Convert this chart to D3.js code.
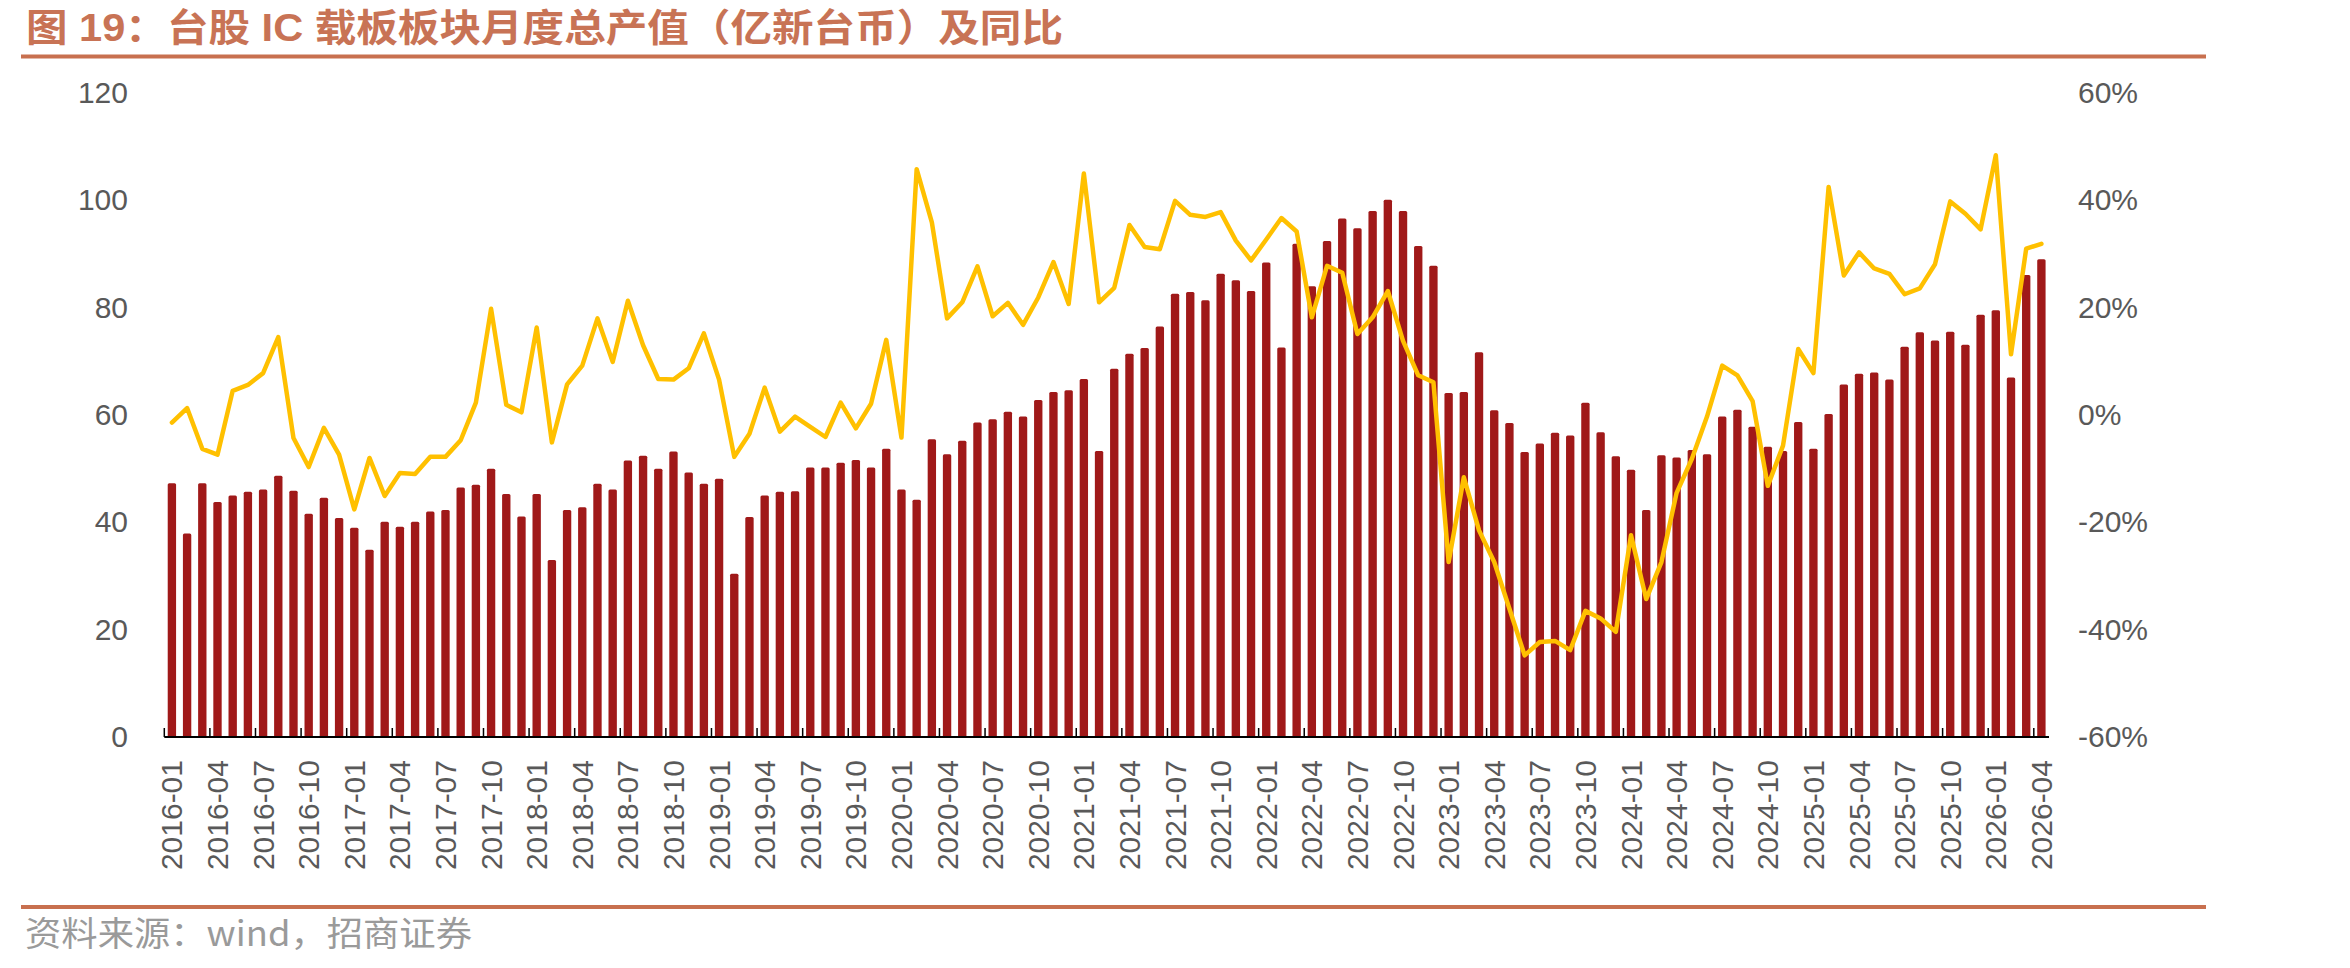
<!DOCTYPE html>
<html>
<head>
<meta charset="utf-8">
<script src="https://cdn.jsdelivr.net/npm/d3@7"></script>
<style>
    body { margin: 0; background: #fff; }
    svg { display: block; }
</style>
</head>
<body>
<svg id="chart"></svg>
<script>
/* 月度总产值（亿新台币） 2016-01 ~ 2026-04 */
let revenue = [
    47.3, 37.9, 47.3, 43.8, 45.0, 45.7, 46.1, 48.7, 45.9, 41.6, 44.6, 40.8,
    39.0, 34.9, 40.1, 39.2, 40.1, 42.0, 42.3, 46.5, 47.0, 50.0, 45.3, 41.1,
    45.3, 33.0, 42.3, 42.8, 47.2, 46.1, 51.5, 52.4, 50.0, 53.2, 49.3, 47.2,
    48.1, 30.4, 41.0, 45.0, 45.7, 45.8, 50.2, 50.2, 51.1, 51.6, 50.2, 53.7,
    46.1, 44.2, 55.5, 52.7, 55.2, 58.6, 59.2, 60.6, 59.7, 62.8, 64.3, 64.6,
    66.7, 53.3, 68.6, 71.4, 72.5, 76.5, 82.6, 82.9, 81.4, 86.3, 85.1, 83.1,
    88.4, 72.6, 91.9, 84.0, 92.4, 96.6, 94.8, 98.0, 100.1, 98.0, 91.5, 87.8,
    64.1, 64.3, 71.7, 60.9, 58.5, 53.1, 54.7, 56.7, 56.2, 62.3, 56.8, 52.3,
    49.8, 42.3, 52.5, 52.1, 53.5, 52.7, 59.7, 61.0, 57.8, 54.1, 53.3, 58.7,
    53.7, 60.2, 65.7, 67.7, 67.9, 66.6, 72.7, 75.4, 73.9, 75.5, 73.1, 78.7,
    79.5, 67.0, 86.1, 89.0
];
/* 同比（%） */
let yoy = [
    -1.4, 1.3, -6.3, -7.4, 4.5, 5.6, 7.8, 14.5, -4.3, -9.7, -2.4, -7.4,
    -17.6, -8.0, -15.1, -10.8, -11.0, -7.8, -7.8, -4.7, 2.3, 19.8, 1.9, 0.5,
    16.3, -5.1, 5.7, 9.2, 18.0, 9.9, 21.3, 13.0, 6.7, 6.6, 8.7, 15.2,
    6.6, -7.8, -3.5, 5.1, -3.1, -0.3, -2.2, -4.1, 2.3, -2.5, 2.1, 14.0,
    -4.2, 45.8, 35.9, 18.0, 21.0, 27.7, 18.4, 20.9, 16.8, 21.9, 28.5, 20.7,
    45.0, 21.0, 23.7, 35.4, 31.3, 30.9, 39.9, 37.3, 36.9, 37.8, 32.5, 28.8,
    32.7, 36.7, 34.2, 18.2, 27.8, 26.5, 15.1, 18.2, 23.1, 13.8, 7.4, 6.1,
    -27.4, -11.6, -21.5, -27.4, -36.1, -44.8, -42.3, -42.1, -43.8, -36.5, -37.9, -40.4,
    -22.4, -34.3, -27.4, -14.5, -8.2, -0.3, 9.2, 7.4, 2.6, -13.2, -5.7, 12.3,
    7.8, 42.5, 26.0, 30.3, 27.3, 26.3, 22.5, 23.6, 28.1, 39.8, 37.5, 34.6,
    48.4, 11.3, 31.0, 31.9
];
let leftTicks  = [0, 20, 40, 60, 80, 100, 120];
let rightTicks = [-60, -40, -20, 0, 20, 40, 60];

let months = d3.timeMonth.range(new Date(2016, 0, 1), new Date(2026, 4, 1))
                .map(d3.timeFormat("%Y-%m"));
let xLabels = months.filter((d, i) => i % 3 === 0);

let width = 2350, height = 968;
let svg = d3.select("#chart").attr("width", width).attr("height", height);

svg.append("rect").attr("width", width).attr("height", height).attr("fill", "#fff");

/* 标题 */
svg.append("text")
    .attr("x", 26)
    .attr("y", 41)
    .attr("font-family", "'Liberation Sans', 'Noto Sans CJK SC', sans-serif")
    .attr("font-weight", "bold")
    .attr("font-size", 38)
    .attr("fill", "#C87355")
    .attr("textLength", 1037)
    .attr("lengthAdjust", "spacingAndGlyphs")
    .text("图 19：台股 IC 载板板块月度总产值（亿新台币）及同比");

svg.append("line") /* title underline */
    .attr("x1", 21).attr("x2", 2206)
    .attr("y1", 56.5).attr("y2", 56.5)
    .attr("stroke", "#C8704F")
    .attr("stroke-width", 4);

svg.append("line") /* footer line */
    .attr("x1", 21).attr("x2", 2206)
    .attr("y1", 907).attr("y2", 907)
    .attr("stroke", "#C8704F")
    .attr("stroke-width", 4);

svg.append("text")
    .attr("x", 25)
    .attr("y", 946)
    .attr("font-family", "'Noto Sans CJK SC', 'Liberation Sans', sans-serif")
    .attr("font-size", 34)
    .attr("fill", "#9A9A9A")
    .attr("textLength", 447)
    .attr("lengthAdjust", "spacingAndGlyphs")
    .text("资料来源：wind，招商证券");

/* scales */
let plotLeft = 164.3, plotRight = 2049, plotTop = 93, plotBottom = 737;

let xScale = d3.scaleBand()
                .domain(months)
                .range([plotLeft, plotRight])
                .paddingInner(0.45)
                .paddingOuter(0.225),
    yLeft  = d3.scaleLinear().domain([0, 120]).range([plotBottom, plotTop]),
    yRight = d3.scaleLinear().domain([-60, 60]).range([plotBottom, plotTop]);

let step = xScale.step(),
    edge = (step - xScale.bandwidth()) / 2;

let tickFont = "'Liberation Sans', Arial, sans-serif";

/* 左轴 */
let gLeft = svg.append("g")
    .attr("transform", `translate(136, 0)`)
    .call(d3.axisLeft(yLeft).tickValues(leftTicks).tickSize(0).tickPadding(8));
gLeft.select(".domain").remove();
gLeft.selectAll("text")
    .attr("font-family", tickFont)
    .attr("font-size", 30)
    .attr("fill", "#595959");

/* 右轴 */
let gRight = svg.append("g")
    .attr("transform", `translate(2070, 0)`)
    .call(d3.axisRight(yRight).tickValues(rightTicks).tickSize(0).tickPadding(8)
            .tickFormat((d) => d + "%"));
gRight.select(".domain").remove();
gRight.selectAll("text")
    .attr("font-family", tickFont)
    .attr("font-size", 30)
    .attr("fill", "#595959");

/* 柱 */
svg.append("g")
    .selectAll("rect")
    .data(revenue)
    .enter()
    .append("rect")
    .attr("x", (d, i) => xScale(months[i]))
    .attr("width", xScale.bandwidth())
    .attr("y", (d) => yLeft(d))
    .attr("height", (d) => yLeft(0) - yLeft(d))
    .attr("rx", 1.5)
    .attr("fill", "#A01919");

/* x 轴 */
let gX = svg.append("g")
    .attr("transform", `translate(0, ${plotBottom})`)
    .call(d3.axisBottom(xScale).tickValues(xLabels).tickSize(0).tickPadding(0));
gX.select(".domain").remove();
gX.selectAll("text")
    .attr("font-family", tickFont)
    .attr("font-size", 30)
    .attr("fill", "#595959")
    .attr("text-anchor", "end")
    .attr("dy", "0.35em")
    .attr("transform", "translate(0, 23) rotate(-90)")
    .attr("x", 0)
    .attr("y", 0);

gX.append("line")
    .attr("x1", plotLeft).attr("x2", plotRight)
    .attr("y1", 0).attr("y2", 0)
    .attr("stroke", "#000")
    .attr("stroke-width", 2);

gX.selectAll(".minor")
    .data(xLabels)
    .enter()
    .append("line")
    .attr("class", "minor")
    .attr("x1", (d) => xScale(d) - edge)
    .attr("x2", (d) => xScale(d) - edge)
    .attr("y1", 0).attr("y2", -9)
    .attr("stroke", "#000")
    .attr("stroke-width", 1.5);

/* 同比线 */
let line = d3.line()
    .x((d, i) => xScale(months[i]) + xScale.bandwidth() / 2)
    .y((d) => yRight(d));

svg.append("path")
    .datum(yoy)
    .attr("d", line)
    .attr("fill", "none")
    .attr("stroke", "#FFC000")
    .attr("stroke-width", 4.5)
    .attr("stroke-linejoin", "round")
    .attr("stroke-linecap", "round");
</script>
</body>
</html>
